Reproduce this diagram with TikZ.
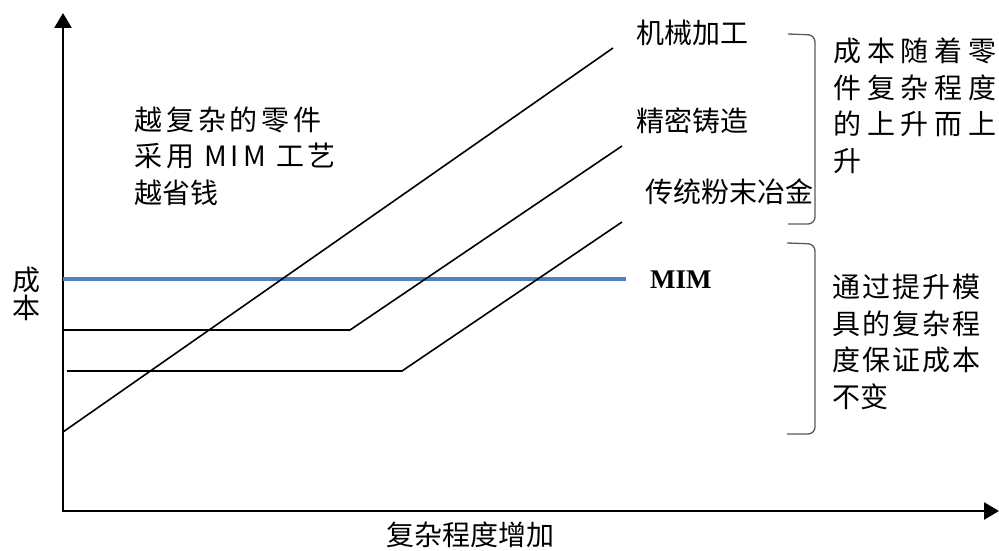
\documentclass[tikz,border=0pt]{standalone}
\usepackage{fontspec}
\setmainfont{Liberation Serif}
\newfontfamily\cjk{Noto Sans CJK SC}
\newfontfamily\cjklarge[LetterSpace=21]{Noto Sans CJK SC}
\newfontfamily\cjkmoyen[LetterSpace=14]{Noto Sans CJK SC}
\newfontfamily\cjkserre[LetterSpace=7]{Noto Sans CJK SC}
\usetikzlibrary{arrows.meta}
\definecolor{bleumim}{HTML}{4F81BD}
\definecolor{griscrochet}{HTML}{595959}

\begin{document}
\begin{tikzpicture}[x=1bp,y=-1bp,
    axe/.style={line width=2.6bp, line join=miter,
      {Triangle[length=15bp,width=17bp]}-{Triangle[length=15bp,width=17bp]}},
    courbe/.style={line width=1.6bp},
    crochet/.style={line width=1.3bp, griscrochet, rounded corners=7bp},
    etiquette/.style={font=\cjk\fontsize{28bp}{36.5bp}\selectfont, inner sep=0pt},
    remarque/.style={etiquette, anchor=west, align=left}]

    \useasboundingbox (0,0) rectangle (999,551);

    % Les axes
    \coordinate (O) at (63,511);
    \coordinate (Ymax) at (63,13);
    \coordinate (Xmax) at (999,511);
    \draw[axe] (Ymax) -- (O) -- (Xmax);

    % La ligne MIM (cout constant)
    \coordinate (mimA) at (63,279);
    \coordinate (mimB) at (626,279);
    \draw[line width=4bp, bleumim] (mimA) -- (mimB);

    % Les trois autres procedes
    \coordinate (usinageA) at (63,432);
    \coordinate (usinageB) at (613,48);
    \draw[courbe] (usinageA) -- (usinageB);

    \coordinate (fonderieA) at (63,330);
    \coordinate (fonderieB) at (350,330);
    \coordinate (fonderieC) at (622,146);
    \draw[courbe] (fonderieA) -- (fonderieB) -- (fonderieC);

    \coordinate (frittageA) at (67,371);
    \coordinate (frittageB) at (402,371);
    \coordinate (frittageC) at (622,222);
    \draw[courbe] (frittageA) -- (frittageB) -- (frittageC);

    % Les noms des courbes
    \node[etiquette, anchor=west] (usinage) at (636,33) {机械加工};
    \node[etiquette, anchor=west] (fonderie) at (636,121) {精密铸造};
    \node[etiquette, anchor=west] (frittage) at (645,192) {传统粉末冶金};
    \node[font=\fontsize{27bp}{30bp}\selectfont\bfseries, anchor=base west, inner sep=0pt] (mim) at (650,289) {MIM};

    % Les axes : titres
    \node[etiquette, align=center, font=\cjk\fontsize{28bp}{28bp}\selectfont] (cout) at (26,294) {成\\本};
    \node[etiquette] (complexite) at (470,535) {复杂程度增加};

    % Les remarques
    \node[remarque] (economie) at (134,156) {{\cjkmoyen 越复杂的零件}\\{\cjkmoyen 采用 MIM 工艺}\\越省钱};
    \node[remarque] (hausse) at (833,106) {{\cjklarge 成本随着零}\\{\cjklarge 件复杂程度}\\{\cjklarge 的上升而上}\\升};
    \node[remarque] (constant) at (832,342) {{\cjkserre 通过提升模}\\{\cjkserre 具的复杂程}\\{\cjkserre 度保证成本}\\不变};

    % Les crochets
    \draw[crochet] (788,34) -- (815,35) -- (815,224) -- (788,224);
    \draw[crochet] (787,243) -- (815,244) -- (815,434) -- (787,434);

\end{tikzpicture}
\end{document}
